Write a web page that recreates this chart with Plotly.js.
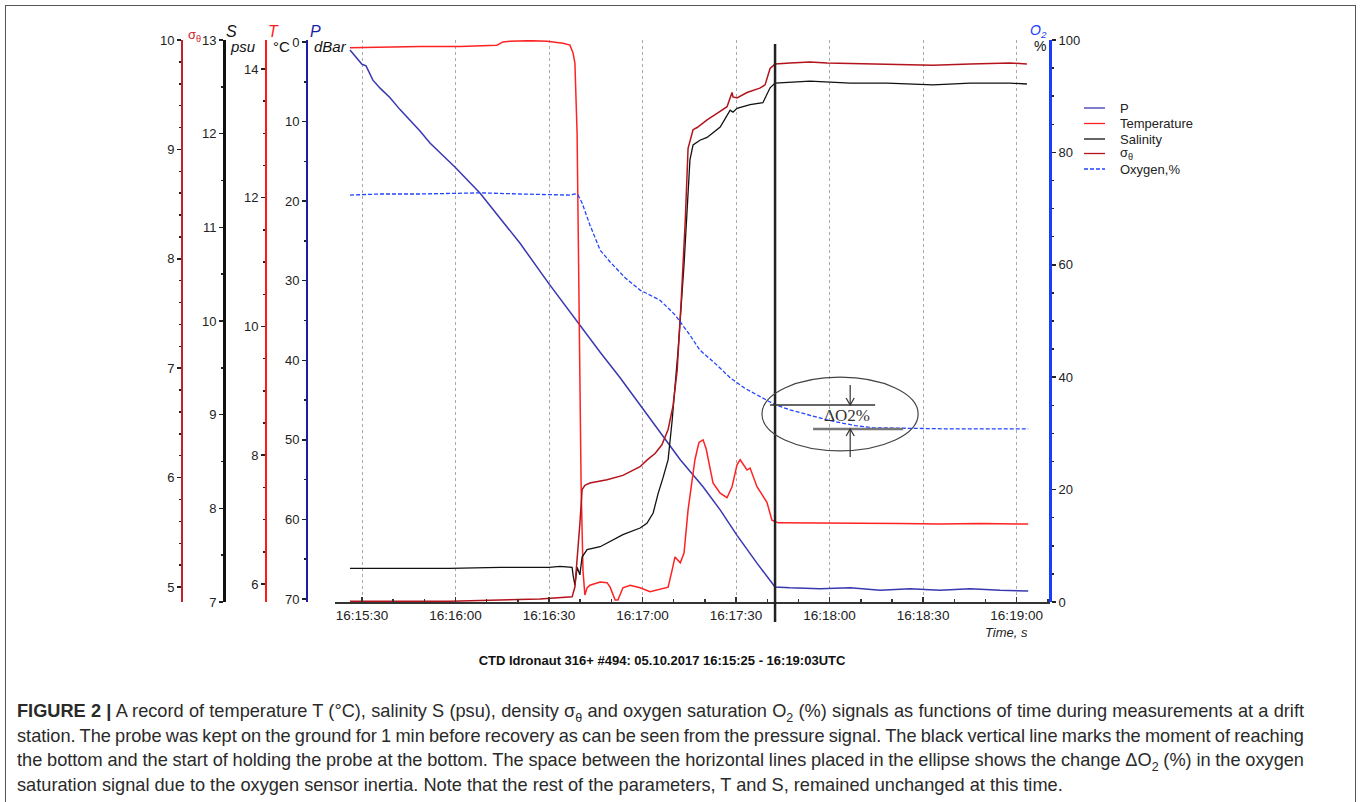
<!DOCTYPE html>
<html><head><meta charset="utf-8">
<script src="https://cdn.plot.ly/plotly-3.0.1.min.js"></script>
<style>
html,body{margin:0;padding:0;background:#fff;}
#wrap{position:relative;width:1360px;height:802px;overflow:hidden;background:#fff;}
#chart{position:absolute;left:0;top:0;width:1360px;height:802px;}
#frame{position:absolute;left:5px;top:5px;width:1349px;height:805px;border:1px solid #555;pointer-events:none;}
#caption{position:absolute;left:17px;top:699px;width:1287px;font-family:'Liberation Sans',Arial,sans-serif;font-size:18.2px;color:#2a2a2a;}
.ln{height:24.7px;line-height:24.7px;white-space:nowrap;}
.ln span{white-space:nowrap;}
.ln sub{font-size:12.5px;line-height:0;}
</style></head>
<body>
<div id="wrap">
<div id="chart"></div>
<div id="frame"></div>
<div id="caption">
<div class="ln"><span><b>FIGURE 2 |</b> A record of temperature T (°C), salinity S (psu), density σ<sub>θ</sub> and oxygen saturation O<sub>2</sub> (%) signals as functions of time during measurements at a drift</span></div>
<div class="ln"><span>station. The probe was kept on the ground for 1 min before recovery as can be seen from the pressure signal. The black vertical line marks the moment of reaching</span></div>
<div class="ln"><span>the bottom and the start of holding the probe at the bottom. The space between the horizontal lines placed in the ellipse shows the change ΔO<sub>2</sub> (%) in the oxygen</span></div>
<div class="ln last"><span>saturation signal due to the oxygen sensor inertia. Note that the rest of the parameters, T and S, remained unchanged at this time.</span></div>
</div>
</div>
<script>
// time in seconds after 16:15:00 (05.10.2017)
const timeTickVals = [30, 60, 90, 120, 150, 180, 210, 240];
const timeTickText = ['16:15:30','16:16:00','16:16:30','16:17:00','16:17:30','16:18:00','16:18:30','16:19:00'];

// Pressure, dBar
const timeP = [26.15,27.75,30.0,31.3,33.5,35.8,39.0,42.2,45.4,48.6,51.8,57.3,59.8,67.9,74.3,80.7,90.0,98.3,106.4,112.8,119.8,125.6,132.1,139.4,144.9,150.3,156.7,162.5,167.3,176.9,186.6,196.2,205.8,215.4,225.1,234.7,243.7];
const pressure = [1.0,1.8,2.8,3.0,4.8,5.8,7.0,8.5,9.8,11.2,12.7,14.8,15.7,19.0,22.1,25.3,30.4,34.8,39.0,42.2,45.9,49.1,52.5,55.9,58.8,62.0,65.5,68.5,68.6,68.7,68.6,68.9,68.7,68.9,68.7,68.9,69.0];

// Temperature, °C
const timeT = [26.15,35.8,48.6,61.4,67.9,73.3,75.2,77.5,83.9,89.4,94.5,96.7,97.7,98.3,99.0,99.6,100.3,100.9,101.5,102.2,103.1,106.4,108.6,109.6,111.2,112.1,113.7,116.0,119.2,122.4,125.6,128.2,129.5,130.4,132.1,133.3,134.6,135.9,136.8,138.1,139.4,140.4,141.4,142.6,144.9,147.1,148.7,150.3,151.3,153.5,154.5,156.7,159.9,161.5,163.5,170.5,180.2,189.8,202.6,215.4,228.3,243.7];
const temperature = [14.33,14.34,14.35,14.35,14.36,14.37,14.42,14.43,14.44,14.43,14.40,14.37,14.25,14.09,13.0,10.0,7.5,6.2,5.83,5.94,5.98,6.03,6.02,5.95,5.75,5.75,5.94,5.98,5.94,5.88,5.92,5.95,6.22,6.42,6.33,6.48,7.15,7.66,7.93,8.20,8.24,8.10,7.85,7.57,7.41,7.34,7.51,7.85,7.93,7.77,7.80,7.51,7.27,6.99,6.95,6.95,6.94,6.95,6.94,6.93,6.94,6.93];

// Salinity, psu
const timeS = [26.15,42.2,58.2,74.3,90.0,93.5,97.4,97.7,98.3,99.0,99.3,99.9,100.6,102.2,106.4,113.7,119.2,121.4,123.4,125.0,126.6,128.2,129.5,131.4,133.3,134.3,135.2,136.2,138.4,140.7,144.9,148.1,149.0,150.3,154.5,158.6,160.9,162.5,167.3,173.7,186.6,198.4,213.2,225.1,237.9,243.3];
const salinity = [7.36,7.36,7.36,7.37,7.37,7.38,7.37,7.29,7.18,7.37,7.34,7.29,7.48,7.56,7.59,7.72,7.79,7.84,7.95,8.16,8.33,8.52,8.94,9.69,10.6,11.2,11.72,11.88,11.93,11.96,12.07,12.25,12.23,12.27,12.31,12.33,12.49,12.54,12.55,12.56,12.54,12.54,12.52,12.54,12.54,12.53];

// Density sigma-theta
const timeSig = [26.15,58.2,87.1,97.4,98.3,99.3,99.9,100.6,101.5,103.1,108.6,113.7,119.2,121.4,124.0,126.2,128.2,129.8,131.1,132.4,133.7,134.6,136.2,137.5,140.7,143.9,147.1,148.7,149.0,150.3,153.5,157.6,159.3,160.9,162.5,167.3,173.7,179.2,198.4,213.2,225.1,237.9,243.3];
const sigmaTheta = [4.87,4.87,4.89,4.91,5.00,5.35,5.58,5.89,5.93,5.95,5.98,6.02,6.10,6.16,6.22,6.30,6.44,6.66,6.98,7.62,8.35,9.01,9.18,9.20,9.27,9.33,9.39,9.52,9.48,9.47,9.52,9.56,9.59,9.74,9.78,9.79,9.80,9.79,9.78,9.77,9.78,9.79,9.78];

// Oxygen saturation, %
const timeO2 = [26.15,35.8,48.6,61.4,67.9,80.7,90.3,96.7,98.3,99.3,100.6,103.1,106.4,109.6,114.4,119.2,125.6,130.4,135.2,138.4,143.2,148.1,152.9,157.7,162.5,167.3,172.8,178.5,183.4,188.2,194.0,202.6,218.6,234.7,243.7];
const oxygen = [72.4,72.6,72.6,72.7,72.8,72.6,72.5,72.4,72.6,72.4,71.0,67.1,62.6,60.5,57.7,55.5,53.7,51.1,47.5,44.8,42.5,39.9,38.0,36.6,35.1,34.2,33.3,32.5,31.9,31.4,31.0,30.9,30.8,30.8,30.8];

const seriesNames = ['P', 'Temperature', 'Salinity', 'σ<sub>θ</sub>', 'Oxygen,%'];
const bottomTime = 162.5; // moment of reaching the bottom

const W = 1360, H = 802;
const px = v => v / W, py = v => 1 - v / H;
const yDom = [py(602), py(40)];
const FONT = 'Liberation Sans, Arial, sans-serif';
const tickFont = {family: FONT, size: 13, color: '#222'};

const lineStyles = [
  {color: '#3838b0', width: 1.5},
  {color: '#ff2222', width: 1.5},
  {color: '#111111', width: 1.3},
  {color: '#b3141c', width: 1.5},
  {color: '#2244ff', width: 1.3, dash: '4px,2px'}
];

function yax(o) {
  return Object.assign({
    domain: yDom, anchor: 'free', overlaying: 'y', side: 'left',
    showgrid: false, zeroline: false, showline: true, linewidth: 2,
    ticks: 'outside', ticklen: 4, tickwidth: 1.5, tickcolor: '#222',
    tickfont: tickFont, fixedrange: true, tickmode: 'linear', tick0: 0
  }, o);
}

const xs = [timeP, timeT, timeS, timeSig, timeO2];
const ys = [pressure, temperature, salinity, sigmaTheta, oxygen];
const axes = ['y', 'y2', 'y3', 'y4', 'y5'];
const traces = seriesNames.map((n, i) => ({type: 'scatter', mode: 'lines', name: n, x: xs[i], y: ys[i], yaxis: axes[i], line: lineStyles[i]}));

function ann(text, x, y, opts) {
  return Object.assign({text: text, xref: 'paper', yref: 'paper', x: px(x), y: py(y), showarrow: false,
    xanchor: 'center', yanchor: 'middle', font: {family: FONT, size: 15, color: '#111'}}, opts || {});
}

const shapes = [
  {type: 'line', xref: 'x', yref: 'paper', x0: bottomTime, x1: bottomTime, y0: py(622), y1: py(44), line: {color: '#222', width: 2.5}},
  {type: 'circle', xref: 'x', yref: 'y5', x0: 158.3, x1: 208.4, y0: 26.9, y1: 40.0, line: {color: '#444', width: 1.2}},
  {type: 'line', xref: 'x', yref: 'y5', x0: 160.9, x1: 194.6, y0: 35.05, y1: 35.05, line: {color: '#333', width: 1.3}},
  {type: 'line', xref: 'x', yref: 'y5', x0: 174.7, x1: 203.6, y0: 30.8, y1: 30.8, line: {color: '#777', width: 2.5}},
  {type: 'line', xref: 'x', yref: 'y5', x0: 186.6, x1: 186.6, y0: 38.6, y1: 35.05, line: {color: '#333', width: 1.2}},
  {type: 'path', xref: 'x', yref: 'y5', path: 'M 185.3,36.3 L 186.6,35.05 L 187.9,36.3', line: {color: '#333', width: 1.2}},
  {type: 'line', xref: 'x', yref: 'y5', x0: 186.6, x1: 186.6, y0: 25.8, y1: 30.8, line: {color: '#333', width: 1.2}},
  {type: 'path', xref: 'x', yref: 'y5', path: 'M 185.3,29.55 L 186.6,30.8 L 187.9,29.55', line: {color: '#333', width: 1.2}}
];

const annotations = [
  ann('σ<sub>θ</sub>', 186, 35, {xanchor: 'left', font: {family: FONT, size: 13, color: '#d0202a'}}),
  ann('<i>S</i>', 231, 32, {font: {family: FONT, size: 16, color: '#111'}}),
  ann('<i>psu</i>', 243, 47, {font: {family: FONT, size: 15, color: '#111'}}),
  ann('<i>T</i>', 273, 32, {font: {family: FONT, size: 16, color: '#ff1a1a'}}),
  ann('°C', 281, 47, {font: {family: FONT, size: 15, color: '#111'}}),
  ann('<i>P</i>', 315, 32, {font: {family: FONT, size: 16, color: '#1c1ca6'}}),
  ann('<i>dBar</i>', 330, 47, {font: {family: FONT, size: 15, color: '#111'}}),
  ann('<i>O<sub>2</sub></i>', 1038, 31, {font: {family: FONT, size: 14, color: '#1a3cff'}}),
  ann('%', 1040, 46, {font: {family: FONT, size: 14, color: '#111'}}),
  ann('<i>Time, s</i>', 1030, 632, {xanchor: 'right', font: {family: FONT, size: 13, color: '#222'}}),
  {text: 'ΔO2%', xref: 'x', yref: 'y5', x: 185.6, y: 33.1, showarrow: false, xanchor: 'center', yanchor: 'middle',
    font: {family: 'Liberation Serif, Times New Roman, serif', size: 17, color: '#333'}}
];

// compact legend (rows 15 px apart, as in the figure)
const legendRows = [108, 123.5, 139, 153.5, 169];
seriesNames.forEach((n, i) => {
  shapes.push({type: 'line', xref: 'paper', yref: 'paper', x0: px(1084), x1: px(1105), y0: py(legendRows[i]), y1: py(legendRows[i]),
    line: Object.assign({}, lineStyles[i], {width: 1.3})});
  annotations.push(ann(n, 1118, legendRows[i], {xanchor: 'left', font: {family: FONT, size: 13, color: '#222'}}));
});

const layout = {
  width: W, height: H, margin: {l: 0, r: 0, t: 0, b: 0},
  paper_bgcolor: 'rgba(0,0,0,0)', plot_bgcolor: 'rgba(0,0,0,0)',
  showlegend: false,
  title: {text: '<b>CTD Idronaut 316+ #494: 05.10.2017 16:15:25 - 16:19:03UTC</b>', x: px(662), xanchor: 'center',
    y: py(660), yanchor: 'middle', xref: 'paper', yref: 'paper', font: {family: FONT, size: 13, color: '#111'}},
  xaxis: {domain: [px(335), px(1050)], range: [21.34, 250.7], tickmode: 'array', tickvals: timeTickVals, ticktext: timeTickText,
    showgrid: true, gridcolor: '#aaaaaa', griddash: 'dot', gridwidth: 1, zeroline: false,
    showline: true, linecolor: '#333', linewidth: 1.5, ticks: 'inside', ticklen: 5, tickwidth: 1.5, tickcolor: '#333',
    tickfont: {family: FONT, size: 13.5, color: '#222'}, fixedrange: true,
    minor: {tickmode: 'linear', tick0: 0, dtick: 10, ticks: 'inside', ticklen: 3, tickwidth: 1.5, tickcolor: '#333', showgrid: false}},
  yaxis: yax({overlaying: undefined, position: px(307), range: [70.38, -0.25], dtick: 10, linecolor: '#1c1ca6',
    minor: {dtick: 5, tick0: 0, ticks: 'outside', ticklen: 2, tickcolor: '#222'}}),
  yaxis2: yax({position: px(266), range: [5.72, 14.45], dtick: 2, linecolor: '#ff1a1a',
    minor: {dtick: 0.5, tick0: 0, ticks: 'outside', ticklen: 2, tickcolor: '#222'}}),
  yaxis3: yax({position: px(224), range: [7, 13], dtick: 1, linecolor: '#111', linewidth: 2.5,
    minor: {dtick: 0.5, tick0: 0, ticks: 'outside', ticklen: 2, tickcolor: '#222'}}),
  yaxis4: yax({position: px(182), range: [4.863, 10], dtick: 1, linecolor: '#c8202a',
    minor: {dtick: 0.2, tick0: 0, ticks: 'outside', ticklen: 2, tickcolor: '#222'}}),
  yaxis5: yax({side: 'right', position: px(1050), range: [0, 100], dtick: 20, linecolor: '#1a3cff', linewidth: 3,
    minor: {dtick: 5, tick0: 0, ticks: 'outside', ticklen: 2, tickcolor: '#222'}}),
  shapes: shapes,
  annotations: annotations
};

Plotly.newPlot('chart', traces, layout, {staticPlot: true, displayModeBar: false});

// justify the caption lines (all but the last) to the full text width
document.querySelectorAll('#caption .ln').forEach(el => {
  if (el.classList.contains('last')) return;
  const span = el.querySelector('span');
  const w = span.getBoundingClientRect().width;
  const spaces = (span.textContent.match(/ /g) || []).length;
  if (spaces > 0) span.style.wordSpacing = ((1287 - w) / spaces) + 'px';
});
</script>
</body></html>
